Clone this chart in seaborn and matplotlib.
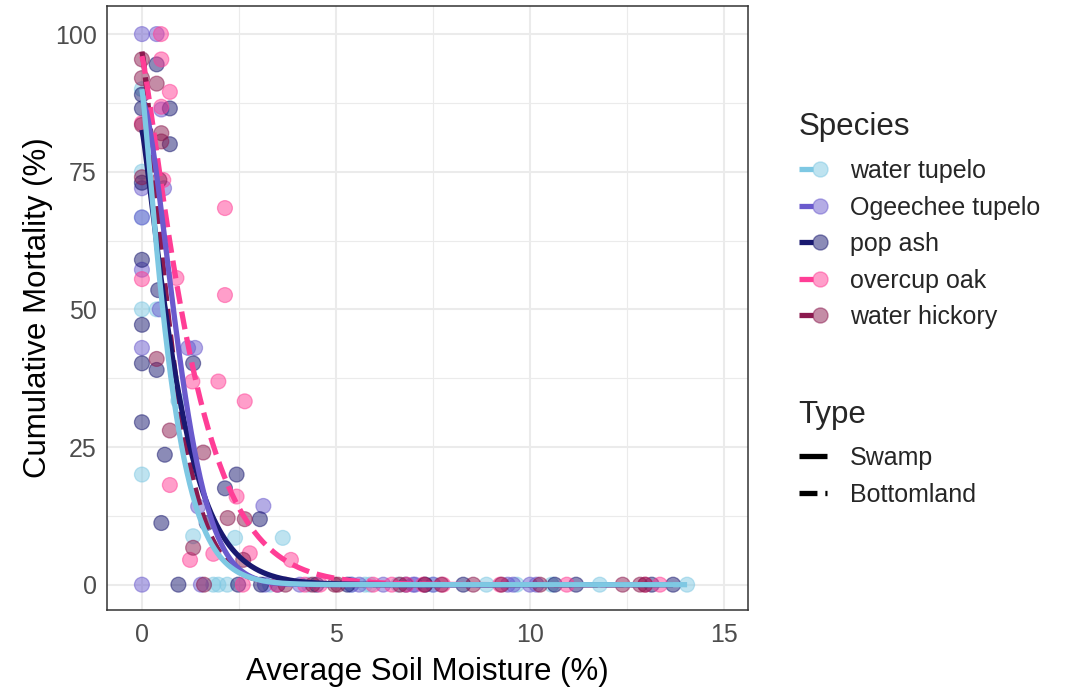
import numpy as np
import pandas as pd
import matplotlib
matplotlib.use("Agg")
import matplotlib.pyplot as plt
from matplotlib.lines import Line2D
from matplotlib.legend_handler import HandlerTuple
from matplotlib.ticker import MultipleLocator
import seaborn as sns

# ---- observations: average soil moisture (%) vs cumulative mortality (%) ----
species = ["water tupelo", "Ogeechee tupelo", "pop ash", "overcup oak", "water hickory"]
site_type = {"water tupelo": "Swamp", "Ogeechee tupelo": "Swamp", "pop ash": "Swamp",
             "overcup oak": "Bottomland", "water hickory": "Bottomland"}
colors = {"water tupelo": "#7EC8E3", "Ogeechee tupelo": "#6A5ACD", "pop ash": "#191970",
          "overcup oak": "#FF3E96", "water hickory": "#8B1A4F"}

water_tupelo_x = [0, 0, 0, 0, 0, 0.38, 0.94, 1.32, 2.40, 3.63,
                  1.84, 1.97, 2.20, 3.30, 4.30, 5.40, 5.75, 5.88, 6.60, 7.50,
                  8.88, 9.66, 10.56, 11.80, 14.05]
water_tupelo_y = [90.0, 75.0, 66.7, 50.0, 20.0, 50.0, 33.4, 8.8, 8.5, 8.5,
                  0, 0, 0, 0, 0, 0, 0, 0, 0, 0, 0, 0, 0, 0, 0]

ogeechee_x = [0, 0.38, 0.50, 0, 0, 0, 0.46, 0, 1.19, 1.37, 1.45, 3.13, 0.57,
              0, 1.52, 3.17, 4.07, 5.40, 5.60, 6.22, 6.99, 7.04, 7.51, 9.43,
              9.57, 10.00, 10.17]
ogeechee_y = [100, 100, 86.3, 72.0, 57.2, 66.7, 50.0, 43.0, 43.0, 43.0, 14.2, 14.3, 72.0,
              0, 0, 0, 0, 0, 0, 0, 0, 0, 0, 0, 0, 0, 0]

pop_ash_x = [0.38, 0, 0, 0.72, 0.72, 0, 0, 0.42, 0, 0, 0.38, 1.32, 0, 0.59, 2.44,
             2.14, 0.50, 1.67, 3.04,
             0.94, 2.48, 3.07, 3.50, 4.50, 5.30, 6.80, 7.30, 8.28, 10.64, 11.19,
             13.14, 13.69]
pop_ash_y = [94.5, 89.0, 86.5, 86.5, 80.0, 73.0, 59.0, 53.5, 47.2, 40.2, 39.0, 40.2,
             29.5, 23.6, 20.0, 17.5, 11.2, 11.2, 11.9,
             0, 0, 0, 0, 0, 0, 0, 0, 0, 0, 0, 0, 0]

overcup_x = [0.49, 0.50, 0.72, 0.50, 0, 0.55, 0.89, 0, 2.14, 2.14, 1.97, 1.30,
             2.65, 0.72, 2.44, 1.24, 1.84, 2.78, 3.84,
             2.60, 3.48, 4.20, 4.59, 5.96, 6.44, 6.82, 7.25, 7.76, 9.23, 10.95,
             12.97, 13.35]
overcup_y = [100, 95.4, 89.5, 86.8, 83.8, 73.5, 55.7, 55.5, 68.4, 52.6, 36.9, 36.9,
             33.3, 18.1, 16.0, 4.5, 5.6, 5.7, 4.5,
             0, 0, 0, 0, 0, 0, 0, 0, 0, 0, 0, 0, 0]

hickory_x = [0, 0, 0.38, 0, 0.50, 0.50, 0, 0.45, 0.38, 0.72, 1.58, 2.21, 2.65,
             1.32, 2.61,
             1.60, 3.70, 4.40, 4.97, 5.05, 6.65, 7.29, 7.72, 8.54, 9.27, 10.26,
             12.39, 12.84, 12.97]
hickory_y = [95.4, 92.0, 91.0, 83.5, 82.0, 80.5, 74.0, 73.5, 41.0, 28.0, 24.0, 12.1,
             11.9, 6.7, 4.5,
             0, 0, 0, 0, 0, 0, 0, 0, 0, 0, 0, 0, 0, 0]

# fitted decay curves: mortality = a * exp(-(moisture / c) ** p)
fit_a = [90.0, 88.0, 82.6, 96.0, 96.8]
fit_c = [0.836, 1.16, 1.068, 1.446, 0.91]
fit_p = [1.2, 1.6, 1.2, 1.2, 1.3]

obs = {"water tupelo": (water_tupelo_x, water_tupelo_y),
       "Ogeechee tupelo": (ogeechee_x, ogeechee_y),
       "pop ash": (pop_ash_x, pop_ash_y),
       "overcup oak": (overcup_x, overcup_y),
       "water hickory": (hickory_x, hickory_y)}

pts = pd.concat([pd.DataFrame({"moisture": x, "mortality": y, "Species": sp})
                 for sp, (x, y) in obs.items()], ignore_index=True)

curves = []
for sp, a, c, p in zip(species, fit_a, fit_c, fit_p):
    xs = np.linspace(min(obs[sp][0]), max(obs[sp][0]), 400)
    curves.append(pd.DataFrame({"moisture": xs,
                                "mortality": a * np.exp(-(xs / c) ** p),
                                "Species": sp, "Type": site_type[sp]}))
curves = pd.concat(curves, ignore_index=True)

# ---- styling ----
sns.set_theme(style="white")
plt.rcParams["font.family"] = ["Liberation Sans", "DejaVu Sans"]

LW = 3.8
DASH = (3.4, 1.5)

fig = plt.figure(figsize=(10.66, 6.87), dpi=100)
ax = fig.add_axes([107 / 1066, 1 - 610 / 687, (748 - 107) / 1066, (610 - 6) / 687])

sns.scatterplot(data=pts, x="moisture", y="mortality", hue="Species",
                hue_order=species, palette=colors, s=115, alpha=0.5,
                edgecolor="face", linewidth=0.9, legend=False, ax=ax, zorder=3)

sns.lineplot(data=curves, x="moisture", y="mortality", hue="Species",
             hue_order=species[::-1], palette=colors, style="Type",
             style_order=["Swamp", "Bottomland"],
             dashes={"Swamp": "", "Bottomland": DASH},
             linewidth=LW, legend=False, ax=ax, zorder=4, estimator=None, sort=False,
             solid_capstyle="butt", dash_capstyle="butt")

ax.set_xlim(-0.9, 15.62)
ax.set_ylim(-4.6, 105.1)
ax.xaxis.set_major_locator(MultipleLocator(5))
ax.xaxis.set_minor_locator(MultipleLocator(2.5))
ax.yaxis.set_major_locator(MultipleLocator(25))
ax.yaxis.set_minor_locator(MultipleLocator(12.5))
ax.set_axisbelow(True)
ax.grid(which="major", color="#EBEBEB", lw=1.5)
ax.grid(which="minor", color="#EBEBEB", lw=0.8)
ax.tick_params(which="major", length=4.5, width=1.0, color="#333333",
               labelsize=18, labelcolor="#4D4D4D", pad=3)
ax.tick_params(axis="x", which="major", pad=5)
ax.tick_params(which="minor", length=0)
for s in ax.spines.values():
    s.set_color("#333333")
    s.set_linewidth(1.1)

ax.set_xlabel("Average Soil Moisture (%)", fontsize=22.5, color="black", labelpad=7)
ax.set_ylabel("Cumulative Mortality (%)", fontsize=22.5, color="black", labelpad=1)

# ---- legends ----
sp_handles = [(Line2D([], [], color=colors[sp], lw=LW, solid_capstyle="butt"),
               Line2D([], [], ls="", marker="o", ms=10.8, mfc=colors[sp],
                      mec=colors[sp], alpha=0.5))
              for sp in species]
leg1 = fig.legend(sp_handles, species, title="Species", loc="upper left",
                  bbox_to_anchor=(786 / 1066, 1 - 100 / 687), frameon=False,
                  fontsize=18, title_fontsize=22.5, handlelength=1.15,
                  handletextpad=0.9, labelspacing=0.5, borderpad=0,
                  alignment="left", handler_map={tuple: HandlerTuple(ndivide=None)})

type_handles = [Line2D([], [], color="black", lw=LW, solid_capstyle="butt"),
                Line2D([], [], color="black", lw=LW, dashes=DASH, dash_capstyle="butt")]
leg2 = fig.legend(type_handles, ["Swamp", "Bottomland"], title="Type", loc="upper left",
                  bbox_to_anchor=(786 / 1066, 1 - 387 / 687), frameon=False,
                  fontsize=18, title_fontsize=22.5, handlelength=1.15,
                  handletextpad=0.9, labelspacing=0.5, borderpad=0,
                  alignment="left")

# space between each legend title and its entries
for leg in (leg1, leg2):
    leg._legend_box.sep = 12

fig.savefig("out.png", dpi=100, facecolor="white")
